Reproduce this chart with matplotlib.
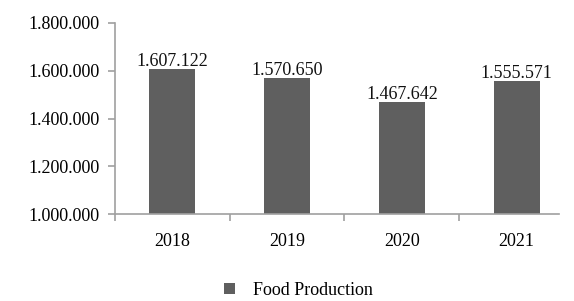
import matplotlib
matplotlib.use("Agg")
import matplotlib.pyplot as plt
from matplotlib.ticker import FuncFormatter

years = ["2018", "2019", "2020", "2021"]
production = [1607122, 1570650, 1467642, 1555571]
series_name = "Food Production"

plt.rcParams["font.family"] = ["Liberation Serif", "DejaVu Serif"]

def dots(v, pos=None):
    return f"{int(round(v)):,}".replace(",", ".")

fig = plt.figure(figsize=(5.74, 3.01), dpi=100)
ax = fig.add_axes([0.2003, 0.289, 0.7997, 0.6346])
x = list(range(len(years)))
bars = ax.bar(x, production, width=0.4, color="#5f5f5f", label=series_name, zorder=2)
for xi, v in zip(x, production):
    ax.text(xi, v - 4000, dots(v), ha="center", va="bottom", fontsize=13, color="#111111", zorder=3)

ax.set_xlim(-0.5, 3.5)
ax.set_ylim(1000000, 1800000)
ax.set_yticks([1000000, 1200000, 1400000, 1600000, 1800000])
ax.yaxis.set_major_formatter(FuncFormatter(dots))
ax.set_xticks(x)
ax.set_xticklabels(years)
ax.set_xticks([-0.5, 0.5, 1.5, 2.5], minor=True)
ax.tick_params(axis="x", which="major", length=0, pad=14, labelsize=13)
ax.tick_params(axis="x", which="minor", length=5, color="#a0a0a0", width=1.2)
ax.tick_params(axis="y", length=5, color="#a0a0a0", width=1.2, labelsize=13, pad=6)
for s in ["top", "right"]:
    ax.spines[s].set_visible(False)
for s in ["left", "bottom"]:
    ax.spines[s].set_color("#a0a0a0")
    ax.spines[s].set_linewidth(1.2)
ax.spines["bottom"].set_bounds(-0.5, 3.37)

fig.legend(handles=[bars], labels=[series_name], loc="center", bbox_to_anchor=(0.52, 0.035),
           frameon=False, fontsize=13, handlelength=0.6, handleheight=0.6, handletextpad=1.0)

fig.savefig("out.png", dpi=100)
